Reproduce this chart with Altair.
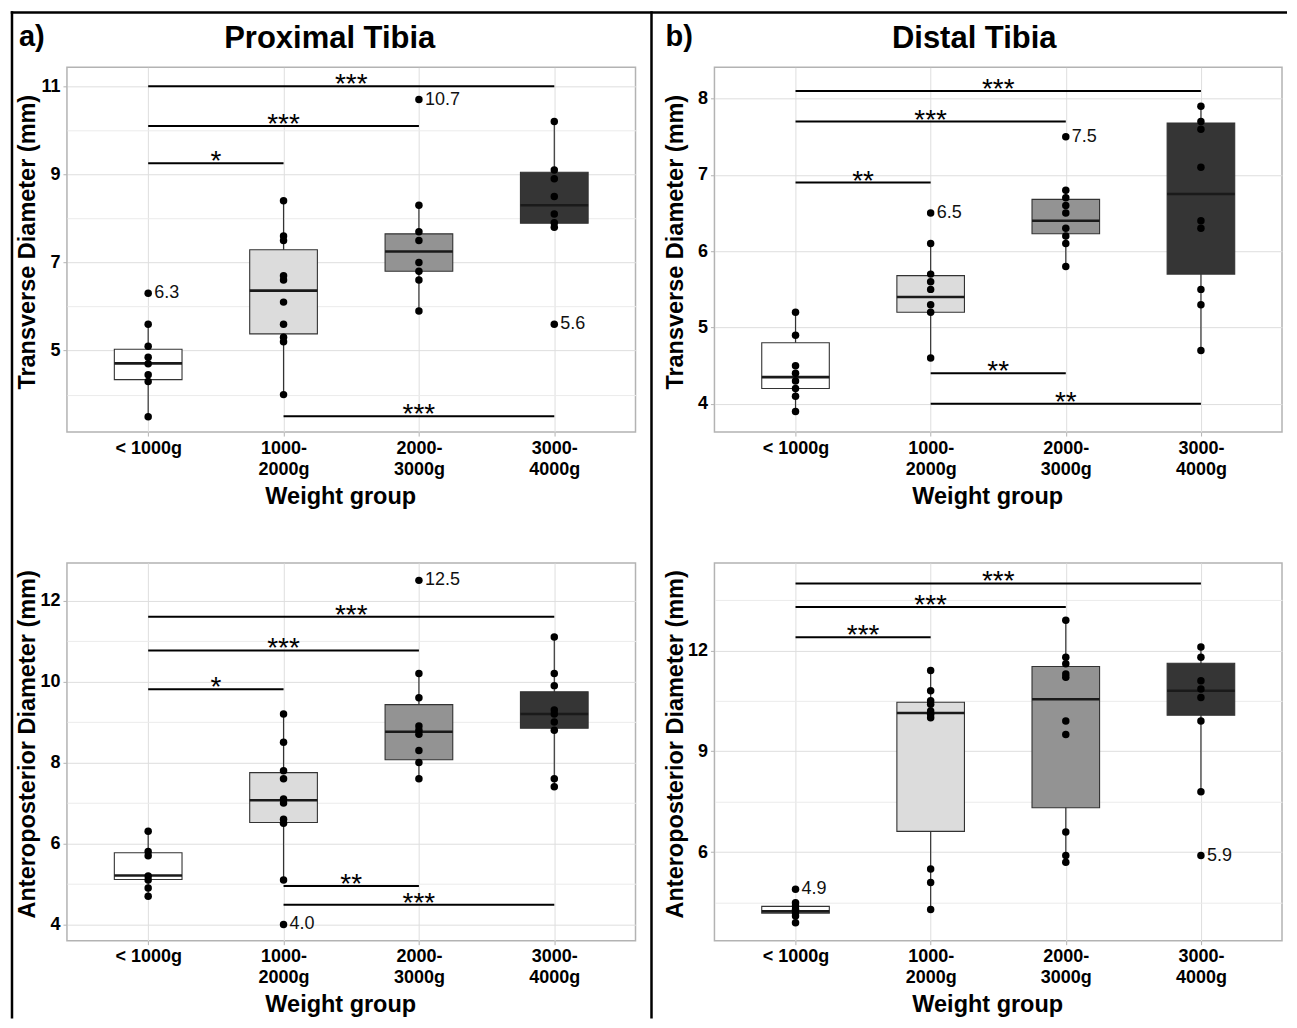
import altair as alt
import pandas as pd

GROUPS = ["< 1000g", "1000-2000g", "2000-3000g", "3000-4000g"]
TICK_LINES = [["< 1000g"], ["1000-", "2000g"], ["2000-", "3000g"], ["3000-", "4000g"]]
FILLS = ["#FFFFFF", "#DCDCDC", "#939393", "#353535"]

# ---- Proximal tibia, transverse diameter ----
PT_PTS = [
    [6.3, 5.6, 5.1, 4.85, 4.7, 4.45, 4.3, 3.5],
    [8.4, 7.6, 7.5, 6.7, 6.6, 6.1, 5.6, 5.3, 5.2, 4.0],
    [10.7, 8.3, 7.7, 7.5, 7.0, 6.8, 6.6, 5.9],
    [10.2, 9.1, 8.9, 8.5, 8.1, 7.9, 7.8, 5.6],
]
PT_Q1 = [4.34, 5.38, 6.80, 7.89]
PT_MED = [4.71, 6.36, 7.25, 8.30]
PT_Q3 = [5.03, 7.29, 7.65, 9.05]
PT_WLO = [3.5, 4.0, 5.9, 7.8]
PT_WHI = [5.6, 8.4, 8.3, 10.2]
PT_SIG = [(1, 4, 11.0, "***"), (1, 3, 10.1, "***"), (1, 2, 9.25, "*"), (2, 4, 3.51, "***")]
PT_OUT = [(1, 6.3), (3, 10.7), (4, 5.6)]

# ---- Distal tibia, transverse diameter ----
DT_PTS = [
    [5.2, 4.9, 4.5, 4.4, 4.3, 4.2, 4.1, 3.9],
    [6.5, 6.1, 5.7, 5.6, 5.5, 5.3, 5.2, 4.6],
    [7.5, 6.8, 6.7, 6.6, 6.5, 6.3, 6.2, 6.1, 5.8],
    [7.9, 7.7, 7.6, 7.1, 6.4, 6.3, 5.5, 5.3, 4.7],
]
DT_Q1 = [4.20, 5.20, 6.23, 5.70]
DT_MED = [4.35, 5.40, 6.40, 6.75]
DT_Q3 = [4.80, 5.68, 6.68, 7.68]
DT_WLO = [3.9, 4.6, 5.8, 4.7]
DT_WHI = [5.2, 6.1, 6.8, 7.9]
DT_SIG = [(1, 4, 8.1, "***"), (1, 3, 7.7, "***"), (1, 2, 6.9, "**"), (2, 3, 4.4, "**"), (2, 4, 4.0, "**")]
DT_OUT = [(2, 6.5), (3, 7.5)]

# ---- Proximal tibia, anteroposterior diameter ----
PA_PTS = [
    [6.3, 5.8, 5.7, 5.2, 5.1, 4.9, 4.7],
    [9.2, 8.5, 7.8, 7.6, 7.1, 7.0, 6.6, 6.5, 5.1, 4.0],
    [12.5, 10.2, 9.6, 8.9, 8.8, 8.7, 8.3, 8.0, 7.6],
    [11.1, 10.2, 9.9, 9.3, 9.2, 9.0, 8.8, 7.6, 7.4],
]
PA_Q1 = [5.11, 6.52, 8.07, 8.85]
PA_MED = [5.21, 7.07, 8.76, 9.20]
PA_Q3 = [5.77, 7.75, 9.43, 9.75]
PA_WLO = [4.7, 5.1, 7.6, 7.4]
PA_WHI = [6.3, 9.2, 10.2, 11.1]
PA_SIG = [(1, 4, 11.6, "***"), (1, 3, 10.77, "***"), (1, 2, 9.81, "*"), (2, 3, 4.95, "**"), (2, 4, 4.49, "***")]
PA_OUT = [(2, 4.0), (3, 12.5)]

# ---- Distal tibia, anteroposterior diameter ----
DA_PTS = [
    [4.9, 4.5, 4.4, 4.3, 4.2, 4.1, 3.9],
    [11.4, 10.8, 10.5, 10.4, 10.2, 10.1, 10.0, 5.5, 5.1, 4.3],
    [12.9, 11.8, 11.6, 11.3, 11.2, 9.9, 9.5, 6.6, 5.9, 5.7],
    [12.1, 11.8, 11.1, 10.85, 10.6, 9.9, 7.8, 5.9],
]
DA_Q1 = [4.19, 6.62, 7.32, 10.07]
DA_MED = [4.24, 10.14, 10.55, 10.80]
DA_Q3 = [4.39, 10.46, 11.52, 11.62]
DA_WLO = [3.9, 4.3, 5.7, 7.8]
DA_WHI = [4.5, 11.4, 12.9, 12.1]
DA_SIG = [(1, 4, 13.99, "***"), (1, 3, 13.29, "***"), (1, 2, 12.39, "***")]
DA_OUT = [(1, 4.9), (4, 5.9)]

FONT = "Liberation Sans"
HALF = 0.25  # half box width, in group units


def x_label_expr():
    parts = []
    for i, lines in enumerate(TICK_LINES):
        arr = "[" + ",".join("'" + s + "'" for s in lines) + "]"
        parts.append(f"datum.value == {i + 1} ? {arr} : ")
    return "".join(parts) + "''"


def xaxis(w):
    return alt.Axis(values=[1, 2, 3, 4], title="Weight group", labelExpr=x_label_expr(),
                    labelLineHeight=21, labelPadding=3, titleY=64, titleX=w / 2 - 11,
                    titleBaseline="middle", titleAlign="center", grid=True)


def yaxis(majors, minors, title, h):
    vals = sorted(majors + minors)
    test = "indexof([" + ",".join(str(m) for m in majors) + "], datum.value) >= 0"
    return alt.Axis(values=vals, title=title, format="d",
                    labelExpr=f"{test} ? format(datum.value, 'd') : ''",
                    tickOpacity={"condition": {"test": test, "value": 1}, "value": 0},
                    gridColor={"condition": {"test": test, "value": "#dedede"}, "value": "#ebebeb"},
                    titleX=-39, titleY=h / 2 - 8, titleAngle=270, titleAlign="center",
                    titleBaseline="middle", labelPadding=3, grid=True)


def panel(pts, q1, med, q3, wlo, whi, sig, out, domain, majors, minors, ytitle, w, h, extra=None):
    pdf = pd.DataFrame([{"pos": i + 1, "value": v} for i, g in enumerate(pts) for v in g])
    bdf = pd.DataFrame({"pos": [1, 2, 3, 4], "q1": q1, "med": med, "q3": q3,
                        "wlo": wlo, "whi": whi, "fill": FILLS})
    sdf = pd.DataFrame(sig, columns=["g1", "g2", "y", "lab"])
    odf = pd.DataFrame(out, columns=["pos", "value"])

    xs = alt.Scale(domain=[0.4, 4.6], nice=False, zero=False)
    ys = alt.Scale(domain=domain, nice=False, zero=False)
    xa = xaxis(w)
    ya = yaxis(majors, minors, ytitle, h)

    def X(f):
        return alt.X(f, type="quantitative", scale=xs, axis=xa)

    def Y(f):
        return alt.Y(f, type="quantitative", scale=ys, axis=ya)

    base_b = alt.Chart(bdf).transform_calculate(lo=f"datum.pos - {HALF}", hi=f"datum.pos + {HALF}")

    whisk = alt.Chart(bdf).mark_rule(color="#333333", strokeWidth=1.2).encode(
        x=X("pos"), y=Y("wlo"), y2="whi")
    box = base_b.mark_bar(stroke="#333333", strokeWidth=1.1).encode(
        x=X("lo"), x2="hi", y=Y("q1"), y2="q3", fill=alt.Fill("fill:N", scale=None))
    medl = base_b.mark_rule(color="#1a1a1a", strokeWidth=2.6).encode(
        x=X("lo"), x2="hi", y=Y("med"))
    dots = alt.Chart(pdf).mark_circle(size=56, color="black", opacity=1).encode(
        x=X("pos"), y=Y("value"))
    olab = alt.Chart(odf).transform_calculate(lab="format(datum.value, '.1f')").mark_text(
        align="left", baseline="middle", dx=6, fontSize=18, color="#111111").encode(
        x=X("pos"), y=Y("value"), text="lab:N")
    srule = alt.Chart(sdf).mark_rule(color="black", strokeWidth=2).encode(
        x=X("g1"), x2="g2", y=Y("y"))
    stext = alt.Chart(sdf).transform_calculate(mid="(datum.g1 + datum.g2) / 2").mark_text(
        baseline="alphabetic", dy=7, fontSize=28, color="black").encode(
        x=X("mid"), y=Y("y"), text="lab:N")

    layers = [whisk, box, medl, dots, olab, srule, stext]
    if extra:
        layers += extra
    return alt.layer(*layers).properties(width=w, height=h)


one = pd.DataFrame({"k": [0]})


def header(label, label_x, title, title_x):
    a = alt.Chart(one).mark_text(text=label, fontSize=29, fontWeight="bold", align="left",
                                 baseline="alphabetic", color="black").encode(
        x=alt.value(label_x), y=alt.value(-21))
    t = alt.Chart(one).mark_text(text=title, fontSize=31, fontWeight="bold", align="center",
                                 baseline="alphabetic", color="black").encode(
        x=alt.value(title_x), y=alt.value(-19))
    return [a, t]


frame = [
    alt.Chart(one).mark_rule(color="black", strokeWidth=2.5).encode(
        x=alt.value(-55), y=alt.value(-56.25), y2=alt.value(952)),
    alt.Chart(one).mark_rule(color="black", strokeWidth=2.5).encode(
        x=alt.value(585), y=alt.value(-56.25), y2=alt.value(952)),
    alt.Chart(one).mark_rule(color="black", strokeWidth=2.5).encode(
        x=alt.value(-56.25), x2=alt.value(1221), y=alt.value(-55)),
]

WA, WB = 569, 568
HT, HB = 365, 378

At = panel(PT_PTS, PT_Q1, PT_MED, PT_Q3, PT_WLO, PT_WHI, PT_SIG, PT_OUT,
           [3.15, 11.43], [5, 7, 9, 11], [4, 6, 8, 10], "Transverse Diameter (mm)", WA, HT,
           extra=frame + header("a)", -48, "Proximal Tibia", 263))
Bt = panel(DT_PTS, DT_Q1, DT_MED, DT_Q3, DT_WLO, DT_WHI, DT_SIG, DT_OUT,
           [3.63, 8.41], [4, 5, 6, 7, 8], [4.5, 5.5, 6.5, 7.5], "Transverse Diameter (mm)", WB, HT,
           extra=header("b)", -49, "Distal Tibia", 260))
Ab = panel(PA_PTS, PA_Q1, PA_MED, PA_Q3, PA_WLO, PA_WHI, PA_SIG, PA_OUT,
           [3.6, 12.93], [4, 6, 8, 10, 12], [5, 7, 9, 11], "Anteroposterior Diameter (mm)", WA, HB)
Bb = panel(DA_PTS, DA_Q1, DA_MED, DA_Q3, DA_WLO, DA_WHI, DA_SIG, DA_OUT,
           [3.37, 14.6], [6, 9, 12], [4.5, 7.5, 10.5, 13.5], "Anteroposterior Diameter (mm)", WB, HB)

chart = alt.concat(At, Bt, Ab, Bb, columns=2, spacing={"row": 131, "column": 79},
                   bounds="flush", align="each").properties(
    padding=0, background="white"
).configure(font=FONT).configure_view(
    stroke="#b3b3b3", strokeWidth=1.5
).configure_axis(
    labelFont=FONT, labelFontWeight="bold", labelFontSize=18, labelColor="black",
    titleFont=FONT, titleFontWeight="bold", titleFontSize=23.5, titleColor="black",
    tickColor="#b3b3b3", tickSize=4, tickWidth=1, domain=False, gridColor="#dedede", gridWidth=1
)

chart.save("out.html", embed_options={"renderer": "svg", "actions": False})
